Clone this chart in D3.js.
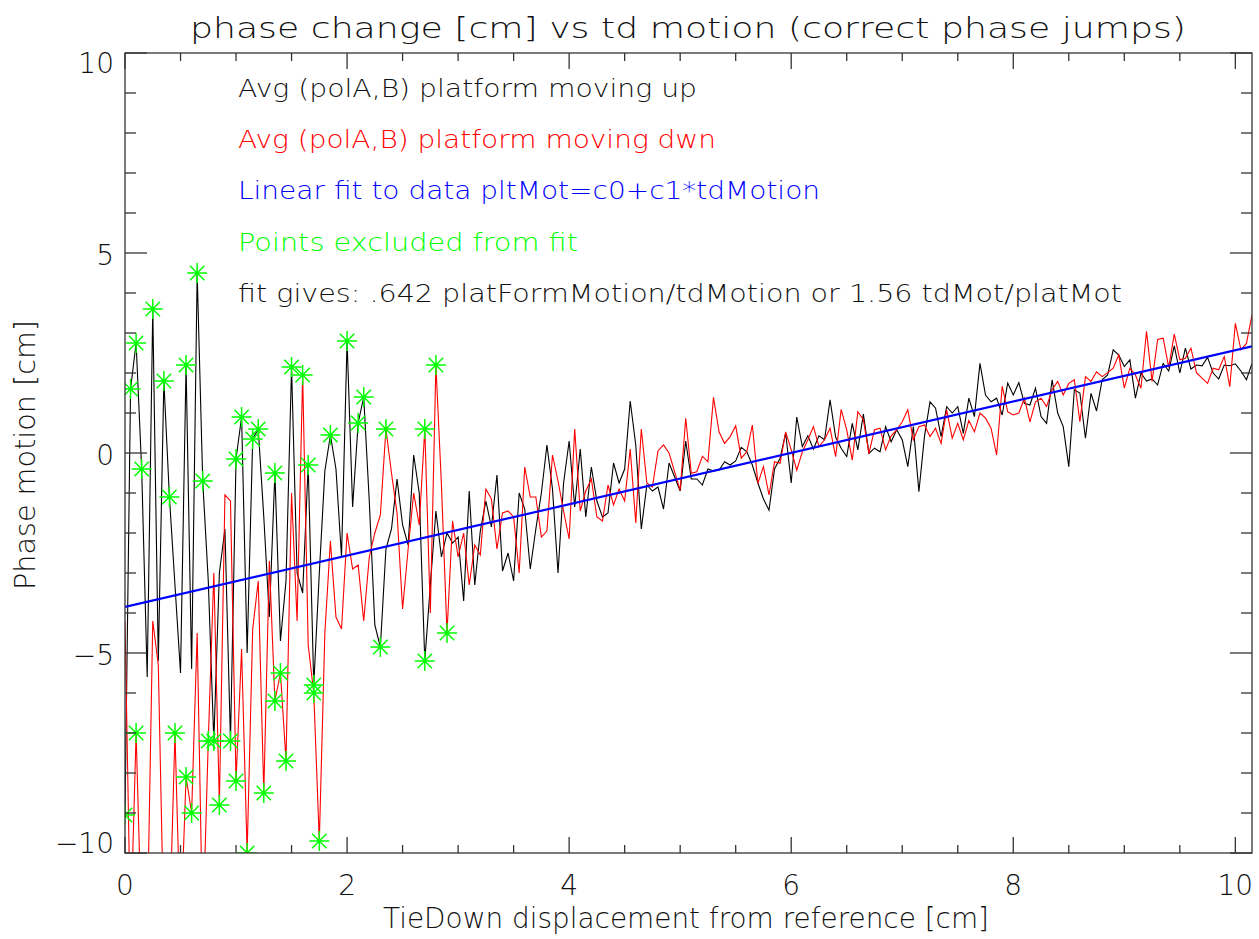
<!DOCTYPE html>
<html>
<head>
<meta charset="utf-8">
<script src="https://cdn.jsdelivr.net/npm/d3@7"></script>
<style>
  body { margin: 0; background: #fff; }
  text { font-family: "DejaVu Sans", sans-serif; font-weight: 200; fill: #111; }
</style>
</head>
<body>
<div class="chart"></div>
<script>
// td motion sampled every 0.05 cm, 0 .. 10.15
const tdStep = 0.05;

// Avg (polA,B) platform moving up
const upVals = [
  -9.05, 1.6, 2.75, -0.4, -5.6, 3.6, -5.2, 1.8, -1.1, -3.3, -5.5, 2.2, -5.4, 4.5, -0.7, -3.2, -7.2, -3.0, -1.9, -7.2,
  -0.15, 0.9, -5.0, 0.35, 0.6, -1.6, -4.1, -0.5, -4.7, -3.2, 2.15, -3.0, -3.5, -0.3, -5.8, -3.0, -0.45, 0.45, -0.4, -2.6,
  2.8, -1.35, 0.75, 1.4, -1.2, -4.3, -4.85, -2.4, -1.9, -0.65, -1.8, -2.3, -0.05, -1.0, -5.2, -3.3, -1.45, -2.6, -2.0, -2.25,
  -2.1, -3.7, -0.95, -3.3, -1.95, -1.2, -1.85, -0.55, -2.95, -2.5, -3.2, -1.0, -1.4, -2.9, -1.9, -1.0, 0.2, -0.9, -3.0, -0.75,
  0.3, -1.35, 0.1, -1.6, -0.35, -1.2, -1.6, -1.5, -0.25, -0.75, -0.4, 1.3, 0.2, -1.9, -0.8, -0.95, -0.85, -1.4, -0.25, -0.6,
  -0.95, 0.3, -0.65, -0.65, -0.8, -0.4, -0.45, -0.43, -0.22, -0.3, -0.2, 0.14, 0.03, -0.3, -0.75, -1.15, -1.43, -0.4, -0.13, 0.5,
  -0.75, 0.9, 0.16, 0.43, 0.1, 0.43, 0.33, 1.33, 0.4, 0.12, -0.09, 0.74, 0.08, 0.97, -0.01, 0.12, 0.03, 0.66, 0.28, 0.58,
  0.33, -0.34, 0.66, -0.97, 0.41, 1.28, 1.12, 0.41, 1.16, 1.0, 1.16, 0.49, 1.37, 0.91, 2.24, 1.45, 1.28, 1.37, 0.95, 1.75,
  1.45, 1.76, 1.24, 1.2, 1.62, 0.91, 0.74, 1.83, 1.0, 0.66, -0.34, 1.58, 1.5, 0.37, 1.49, 1.05, 1.83, 1.95, 2.58, 2.45,
  2.16, 2.33, 1.37, 2.0, 1.8, 1.85, 1.7, 2.24, 2.05, 2.68, 2.0, 2.62, 2.1, 2.2, 2.18, 2.39, 2.0, 1.85, 2.2, 2.18,
  2.23, 2.05, 1.83, 2.24
];

// Avg (polA,B) platform moving dwn
const dwnVals = [
  -4.2, -12, -7.0, -12, -12, -4.2, -5.3, -12, -12, -7.0, -12, -8.1, -9.0, -4.5, -12, -7.2, -3.0, -8.8, -1.05, -1.2,
  -8.2, -4.9, -10.0, -4.4, -3.2, -8.5, -2.7, -6.2, -5.5, -7.7, -1.0, -4.2, 1.95, -4.8, -6.0, -9.7, -4.5, -2.2, -4.1, -4.4,
  -2.0, -2.9, -2.8, -4.2, -2.6, -2.0, -1.55, 0.6, -0.5, -1.5, -3.9, -2.4, -1.0, -1.8, 0.6, -4.0, 2.2, -0.8, -4.5, -1.7,
  -2.6, -2.0, -3.3, -2.3, -2.55, -0.9, -1.15, -2.4, -1.5, -1.45, -1.6, -3.0, -0.35, -1.1, -1.1, -2.1, -1.95, -0.05, -0.7, -1.45,
  -2.15, 0.6, -1.45, -0.95, -0.65, -1.6, -1.7, -0.8, -1.3, -0.9, -1.2, 0.1, -1.75, 0.6, -0.75, -0.85, 0.05, 0.2, 0.0, -0.47,
  -0.93, 0.87, -0.51, -0.47, -0.08, -0.22, 1.39, 0.53, 0.24, 0.41, 0.68, -0.13, 0.03, 0.7, -0.76, -0.34, -1.05, -0.22, -0.26, 0.53,
  0.08, -0.43, 0.03, 0.33, 0.66, 0.16, 0.33, 0.62, -0.09, 1.09, 0.58, -0.18, 1.03, 0.83, -0.01, 0.58, 0.62, 0.08, 0.43, 0.58,
  0.78, 1.08, 0.33, 0.66, 0.7, 0.41, 0.62, 0.24, 1.08, 0.37, 0.74, 0.33, 0.81, 0.53, 1.0, 0.87, 0.62, -0.05, 1.67, 1.03,
  0.95, 1.0, 1.37, 0.78, 1.28, 1.37, 1.16, 1.58, 1.79, 1.45, 1.74, 1.83, 0.78, 1.91, 1.79, 2.03, 1.91, 2.01, 2.12, 2.45,
  1.62, 2.12, 1.95, 1.62, 3.04, 1.79, 2.84, 2.87, 2.14, 2.97, 2.33, 2.37, 2.62, 2.01, 1.87, 1.74, 2.12, 2.08, 2.41, 1.66,
  3.24, 2.58, 2.74, 3.45
];

// td positions of points excluded from fit
const upExcl = [0.00, 0.05, 0.10, 0.15, 0.25, 0.35, 0.40, 0.55, 0.65, 0.70, 0.80, 0.95, 1.00, 1.05, 1.15, 1.20,
  1.35, 1.50, 1.65, 1.70, 1.85, 2.00, 2.10, 2.15, 2.30, 2.70];
const dwnExcl = [0.10, 0.45, 0.55, 0.60, 0.75, 0.85, 1.00, 1.10, 1.25, 1.35, 1.40, 1.45, 1.60, 1.70, 1.75,
  2.35, 2.70, 2.80, 2.90];

// pltMot = c0 + c1*tdMotion
const fitC0 = -3.85;
const fitC1 = 0.642;

const xTicks = [0, 2, 4, 6, 8, 10];
const yTicks = [-10, -5, 0, 5, 10];
const yTickLabels = ["\u221210", "\u22125", "0", "5", "10"];

const legendText = [
  "Avg (polA,B) platform moving up",
  "Avg (polA,B) platform moving dwn",
  "Linear fit to data pltMot=c0+c1*tdMotion",
  "Points excluded from fit",
  "fit gives: .642 platFormMotion/tdMotion or 1.56 tdMot/platMot"
];
const legendColor = ["#111", "#ff0000", "#0000ff", "#00ff00", "#111"];
const legendWidth = [459, 478, 582, 340, 884];

const W = 1259, H = 939;
const pLeft = 125, pRight = 1252, pTop = 53, pBottom = 853;

const svg = d3.select(".chart").append("svg").attr("width", W).attr("height", H);

const x = d3.scaleLinear().domain([0, 10.15]).range([pLeft, pRight]);
const y = d3.scaleLinear().domain([-10, 10]).range([pBottom, pTop]);

const tdMotion = upVals.map((v, i) => i * tdStep);

svg.append("clipPath").attr("id", "plotclip")
  .append("rect").attr("x", pLeft).attr("y", pTop).attr("width", pRight - pLeft).attr("height", pBottom - pTop);

const plot = svg.append("g").attr("clip-path", "url(#plotclip)");

const line = d3.line().x(d => x(d[0])).y(d => y(d[1]));

plot.append("path")
  .datum(tdMotion.map((t, i) => [t, upVals[i]]))
  .attr("d", line)
  .attr("fill", "none")
  .attr("stroke", "#000")
  .attr("stroke-width", 1.1);

plot.append("path")
  .datum(tdMotion.map((t, i) => [t, dwnVals[i]]))
  .attr("d", line)
  .attr("fill", "none")
  .attr("stroke", "#ff0000")
  .attr("stroke-width", 1.1);

plot.append("path")
  .datum([[0, fitC0], [10.15, fitC0 + fitC1 * 10.15]])
  .attr("d", line)
  .attr("fill", "none")
  .attr("stroke", "#0000ff")
  .attr("stroke-width", 2.2);

// asterisk symbol
const r = 10, dd = r * 0.72;
const starPath = `M${-r},0H${r}M0,${-r}V${r}M${-dd},${-dd}L${dd},${dd}M${-dd},${dd}L${dd},${-dd}`;

const stars = upExcl.map(t => [t, upVals[Math.round(t / tdStep)]])
  .concat(dwnExcl.map(t => [t, dwnVals[Math.round(t / tdStep)]]));

plot.selectAll(".star")
  .data(stars)
  .enter()
  .append("path")
  .attr("class", "star")
  .attr("transform", d => `translate(${x(d[0])},${y(d[1])})`)
  .attr("d", starPath)
  .attr("fill", "none")
  .attr("stroke", "#00ff00")
  .attr("stroke-width", 1.5);

// frame and ticks
const axisColor = "#333";
svg.append("rect")
  .attr("x", pLeft).attr("y", pTop).attr("width", pRight - pLeft).attr("height", pBottom - pTop)
  .attr("fill", "none").attr("stroke", axisColor).attr("stroke-width", 1.3);

const xMinor = d3.range(0, 10.15, 0.5).filter(v => !xTicks.includes(v));
const yMinor = d3.range(-10, 10.01, 1).filter(v => !yTicks.includes(v));

function xTickMarks(vals, len) {
  vals.forEach(v => {
    svg.append("line").attr("x1", x(v)).attr("x2", x(v)).attr("y1", pBottom).attr("y2", pBottom - len)
      .attr("stroke", axisColor).attr("stroke-width", 1.3);
    svg.append("line").attr("x1", x(v)).attr("x2", x(v)).attr("y1", pTop).attr("y2", pTop + len)
      .attr("stroke", axisColor).attr("stroke-width", 1.3);
  });
}
function yTickMarks(vals, len) {
  vals.forEach(v => {
    svg.append("line").attr("x1", pLeft).attr("x2", pLeft + len).attr("y1", y(v)).attr("y2", y(v))
      .attr("stroke", axisColor).attr("stroke-width", 1.3);
    svg.append("line").attr("x1", pRight).attr("x2", pRight - len).attr("y1", y(v)).attr("y2", y(v))
      .attr("stroke", axisColor).attr("stroke-width", 1.3);
  });
}
xTickMarks(xTicks, 16);
xTickMarks(xMinor, 8);
yTickMarks(yTicks, 22);
yTickMarks(yMinor, 11);

svg.selectAll(".xlab")
  .data(xTicks)
  .enter()
  .append("text")
  .attr("x", d => x(d))
  .attr("y", 895)
  .attr("text-anchor", "middle")
  .style("font-size", "28px")
  .text(d => d);

// labels kept inside the frame at the ends, as in the original
svg.selectAll(".ylab")
  .data(yTicks)
  .enter()
  .append("text")
  .attr("x", 114)
  .attr("y", d => Math.min(Math.max(y(d) + 12, 73), 853))
  .attr("text-anchor", "end")
  .style("font-size", "28px")
  .text((d, i) => yTickLabels[i]);

svg.append("text")
  .attr("x", 190)
  .attr("y", 38)
  .attr("textLength", 996)
  .attr("lengthAdjust", "spacingAndGlyphs")
  .style("font-size", "29px")
  .text("phase change [cm] vs td motion (correct phase jumps)");

svg.append("text")
  .attr("x", 383)
  .attr("y", 928)
  .attr("textLength", 606)
  .attr("lengthAdjust", "spacingAndGlyphs")
  .style("font-size", "28px")
  .text("TieDown displacement from reference [cm]");

svg.append("text")
  .attr("transform", "translate(35,590) rotate(-90)")
  .attr("textLength", 270)
  .attr("lengthAdjust", "spacingAndGlyphs")
  .style("font-size", "28px")
  .text("Phase motion [cm]");

svg.selectAll(".legend")
  .data(legendText)
  .enter()
  .append("text")
  .attr("x", 238)
  .attr("y", (d, i) => 97 + i * 51.2)
  .attr("textLength", (d, i) => legendWidth[i])
  .attr("lengthAdjust", "spacingAndGlyphs")
  .style("font-size", "25px")
  .style("fill", (d, i) => legendColor[i])
  .text(d => d);
</script>
</body>
</html>
